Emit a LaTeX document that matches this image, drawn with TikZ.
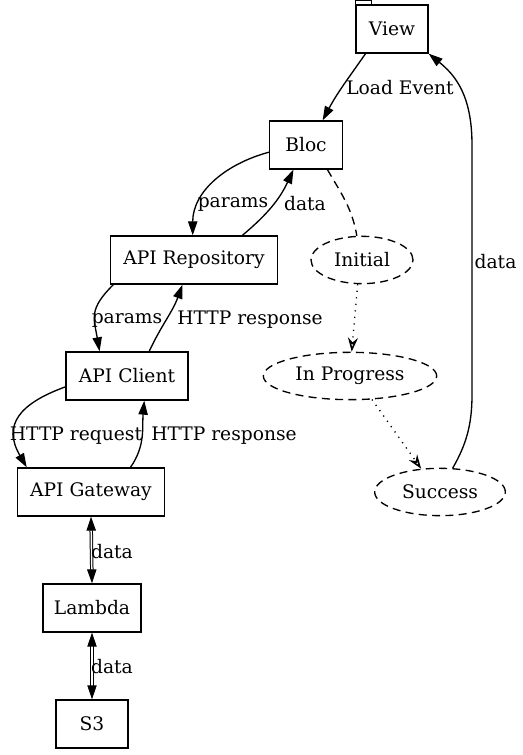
\documentclass[tikz,border=0pt]{standalone}
\usepackage{fontspec}
\setmainfont{DejaVu Serif}
\usetikzlibrary{arrows.meta,shapes.geometric}

\tikzset{
  every node/.style={font=\fontsize{14pt}{16pt}\selectfont},
  box/.style={draw, rectangle, minimum height=36pt, inner sep=0pt},
  phase/.style={draw, ellipse, dash pattern=on 6pt off 4pt, inner sep=0pt, minimum height=35.5pt},
  lbl/.style={inner sep=0pt},
  flow/.style={-{Triangle[length=10.5pt,width=7pt]}},
  hop/.style={dash pattern=on 0.9pt off 4pt, -{Stealth[open,length=10.5pt,width=7.5pt,inset=3.5pt,line width=1.2pt]}},
  link/.style={dash pattern=on 6pt off 4pt},
  duplex/.style={double, double distance=1.1pt, line width=0.75pt,
    {Triangle[length=10.5pt,width=7pt]}-{Triangle[length=10.5pt,width=7pt]}},
}

\begin{document}
\begin{tikzpicture}[x=0.75pt, y=0.75pt, line width=1pt]
\useasboundingbox (0,0) rectangle (522,755);

% layers
\node[box, minimum width=54pt] (view) at (392,726) {View};
\node[box, minimum width=54.5pt] (bloc) at (306,610) {Bloc};
\node[box, minimum width=125pt] (repo) at (194,495) {API Repository};
\node[box, minimum width=91.5pt] (client) at (127,379) {API Client};
\node[box, minimum width=110pt] (gateway) at (91,263) {API Gateway};
\node[box, minimum width=73.5pt] (lambda) at (92,147) {Lambda};
\node[box, minimum width=54pt] (s3) at (92,31) {S3};
\draw (view.north west) rectangle ++(16,4.3);

% states
\node[phase, minimum width=76.5pt] (initial) at (362,495) {Initial};
\node[phase, minimum width=130pt] (inprog) at (350,379) {In Progress};
\node[phase, minimum width=98pt] (success) at (440,263) {Success};

% requests and responses
\draw[flow] (view.223) to[out=-125,in=62] (bloc.56);
\draw[flow] (success.62) .. controls (466,310) and (472,330) .. (472,360)
  -- (472,610) .. controls (472,660) and (455,680) .. (view.south east);
\draw[flow] (bloc.191) to[out=195,in=90] (repo.93);
\draw[flow] (repo.27) to[out=40,in=-115] (bloc.243);
\draw[flow] (repo.197) to[out=-135,in=100,looseness=1.3] (client.138);
\draw[flow] (client.48) to[out=65,in=-110] (repo.245);
\draw[flow] (client.190) to[out=200,in=120,looseness=1.4] (gateway.159);
\draw[flow] (gateway.32) to[out=55,in=-95] (client.305);
\draw[duplex] (gateway.south) -- (lambda.north);
\draw[duplex] (lambda.south) -- (s3.north);

% state changes
\draw[link] (bloc.-49) to[out=-60,in=100] (initial.102);
\draw[hop] (initial.-100) -- (inprog.86);
\draw[hop] (inprog.-47) -- (success.129);

% labels
\node[lbl] (lload) at (400,667) {Load Event};
\node[lbl, anchor=west] (lviewdata) at (474,493) {data};
\node[lbl] (lparams1) at (233,551) {params};
\node[lbl] (lblocdata) at (305,551) {data};
\node[lbl] (lparams2) at (127,435) {params};
\node[lbl] (lresp1) at (250,435) {HTTP response};
\node[lbl] (lreq) at (76,319) {HTTP request};
\node[lbl] (lresp2) at (224,319) {HTTP response};
\node[lbl] (ldata1) at (112,203) {data};
\node[lbl] (ldata2) at (112,88) {data};
\end{tikzpicture}
\end{document}
